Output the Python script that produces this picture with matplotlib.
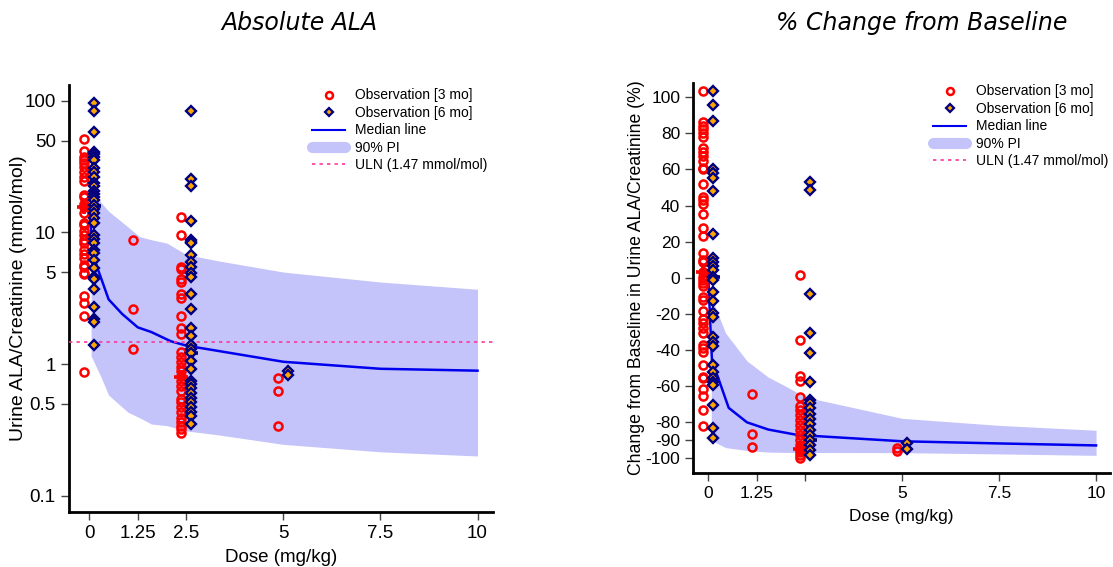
import matplotlib
matplotlib.use("Agg")
import matplotlib.pyplot as plt
from matplotlib.lines import Line2D
import numpy as np

# ---------------- data ----------------
dose_ticks = [0, 1.25, 2.5, 5, 7.5, 10]

# Absolute ALA panel: observations by dose group
abs_d0_3mo = [51.5, 41.7, 37.4, 35.7, 33.7, 31.4, 29.0, 26.6, 24.8, 19.3, 18.6, 16.5, 15.5, 14.0, 11.9, 11.3,
              10.3, 9.6, 8.8, 8.3, 7.4, 6.9, 6.4, 5.7, 5.5, 4.9, 4.8, 3.3, 2.9, 2.3, 0.87]
abs_d0_6mo = [97, 84, 57.8, 41.2, 39.6, 37.4, 35.7, 30.8, 28.6, 26.3, 23.7, 22.4, 20.8, 19.7, 18.6, 17.5, 16.2,
              15.0, 14.0, 12.8, 11.9, 9.6, 8.9, 8.3, 7.4, 7.0, 6.2, 5.4, 4.6, 4.4, 3.7, 2.7, 2.2, 2.1, 1.4]
abs_d125_3mo = [8.7, 2.6, 1.31]
abs_d25_3mo = [13.2, 9.5, 5.5, 5.3, 4.4, 4.2, 3.4, 3.2, 2.3, 1.87, 1.7, 1.24, 1.14, 1.04, 0.95, 0.88, 0.81,
               0.74, 0.68, 0.62, 0.54, 0.51, 0.47, 0.43, 0.39, 0.36, 0.34, 0.32, 0.30]
abs_d25_6mo = [84, 25.6, 22.6, 12.3, 8.8, 8.5, 8.3, 6.7, 6.0, 5.5, 4.9, 4.6, 3.4, 2.6, 1.87, 1.64, 1.40, 1.30,
               1.21, 1.05, 0.91, 0.74, 0.70, 0.66, 0.60, 0.55, 0.51, 0.47, 0.43, 0.40, 0.35]
abs_d5_3mo = [0.78, 0.62, 0.34]
abs_d5_6mo = [0.89, 0.82]
abs_obs_3mo = {0: abs_d0_3mo, 1.25: abs_d125_3mo, 2.5: abs_d25_3mo, 5: abs_d5_3mo}
abs_obs_6mo = {0: abs_d0_6mo, 2.5: abs_d25_6mo, 5: abs_d5_6mo}
abs_grp_med_dose = [0, 2.5]
abs_grp_med_3mo = [15.5, 0.79]
abs_grp_med_6mo = [15.8, 1.21]

abs_med_dose = [0, 0.08, 0.2, 0.5, 0.85, 1.25, 1.6, 2.1, 2.5, 5, 7.5, 10]
abs_median = [15.5, 7.5, 5.5, 3.1, 2.4, 1.9, 1.75, 1.49, 1.38, 1.04, 0.92, 0.89]
abs_pi_dose = [0.05, 0.3, 0.5, 1.0, 1.3, 1.6, 2.0, 2.5, 3.3, 5, 7.5, 10]
abs_pi_upper = [23, 17, 14.5, 11, 9.3, 8.8, 8.3, 6.8, 6.1, 5.0, 4.2, 3.7]
abs_pi_lower = [1.15, 0.8, 0.58, 0.43, 0.39, 0.35, 0.34, 0.31, 0.29, 0.245, 0.215, 0.2]
uln = 1.47

# % change panel
pct_d0_3mo = [103.5, 86.3, 84.1, 82.2, 80, 78.1, 72, 69.6, 67.4, 64.6, 60.9, 60.4, 52, 44.8, 43.3, 41.1, 35.6,
              27.6, 23, 13.7, 10, 8.5, 3, 0.7, -1.1, -3, -4.8, -10.4, -12.2, -18.1, -23, -25.2, -28, -30.7,
              -37.2, -39.1, -40.9, -48, -54.8, -55.7, -61.3, -65.6, -73, -82]
pct_d0_6mo = [103.5, 95.6, 86.9, 60.4, 57.8, 55.4, 48.3, 24.4, 10.9, 8.5, 6.3, 4.1, 0.7, -1.1, -8, -12.6, -19.6,
              -21.9, -33, -35.4, -37.6, -48.3, -52, -55.2, -57.6, -59.4, -70.6, -83, -88.5]
pct_d125_3mo = [-64.6, -86.7, -93.7]
pct_d25_3mo = [1.3, -34.4, -54.3, -57, -65.9, -71, -73.3, -76.1, -78.9, -81.7, -84.4, -87.2, -90, -92.8, -94.6,
               -96.5, -98.3, -99.6]
pct_d25_6mo = [53.2, 48.5, -9.1, -30.7, -41.5, -57.6, -67.8, -69.5, -71.8, -75.2, -78, -81.1, -84.4, -87.2, -90,
               -92.8, -95.6, -98.3]
pct_d5_3mo = [-94, -95.9]
pct_d5_6mo = [-91.5, -94.6]
pct_obs_3mo = {0: pct_d0_3mo, 1.25: pct_d125_3mo, 2.5: pct_d25_3mo, 5: pct_d5_3mo}
pct_obs_6mo = {0: pct_d0_6mo, 2.5: pct_d25_6mo, 5: pct_d5_6mo}
pct_grp_med_dose = [0, 2.5]
pct_grp_med_3mo = [3, -94.6]
pct_grp_med_6mo = [0.7, -90]

pct_med_dose = [0, 0.1, 0.22, 0.53, 1.0, 1.55, 2.3, 5, 7.5, 10]
pct_median = [2, -47, -53, -72, -80, -84, -87, -90.5, -91.7, -92.8]
pct_pi_dose = [0.08, 0.45, 1.0, 1.55, 2.05, 2.5, 5, 7.5, 10]
pct_pi_upper = [-10.6, -30.6, -46, -55, -60.6, -66, -77.8, -81.7, -84.4]
pct_pi_lower = [-90, -94, -95.6, -96.5, -96.7, -96.7, -96.8, -97.5, -98.3]

pct_yticks = [100, 80, 60, 40, 20, 0, -20, -40, -60, -80, -90, -100]
abs_yticks = [0.1, 0.5, 1, 5, 10, 50, 100]
abs_yticklabels = ["0.1", "0.5", "1", "5", "10", "50", "100"]

# ---------------- style ----------------
RED = "#FF0000"
NAVY = "#000080"
ORANGE = "#FFA500"
BAND = "#C4C4FA"
LINE = "#0000EE"
ULN_C = "#FF3399"
SANS = ["Liberation Sans", "DejaVu Sans"]
plt.rcParams["font.family"] = SANS

fig = plt.figure(figsize=(11.13, 5.67), dpi=100)
axL = fig.add_axes([0.062, 0.097, 0.381, 0.753])
axR = fig.add_axes([0.623, 0.166, 0.374, 0.688])

OFF = 0.13


def draw(ax, obs3, obs6, gmd, gm3, gm6, mdose, med, pdose, pup, plo, off):
    ax.fill_between(pdose, plo, pup, color=BAND, lw=0, zorder=1)
    ax.plot(mdose, med, color=LINE, lw=1.8, zorder=2)
    for d, vals in obs3.items():
        ax.plot([d - off] * len(vals), vals, ls="none", marker="o", ms=5.8, mfc="none",
                mec=RED, mew=1.8, zorder=4)
    for d, vals in obs6.items():
        ax.plot([d + off] * len(vals), vals, ls="none", marker="D", ms=4.7, mfc=ORANGE,
                mec=NAVY, mew=1.7, zorder=4)
    ax.plot([g - off for g in gmd], gm3, ls="none", marker="+", ms=10, mew=2.6, color=RED, zorder=3)
    ax.plot([g + off for g in gmd], gm6, ls="none", marker="+", ms=10, mew=2.6, color=NAVY, zorder=3)
    for s in ["top", "right"]:
        ax.spines[s].set_visible(False)
    for s in ["left", "bottom"]:
        ax.spines[s].set_linewidth(2)
    ax.tick_params(direction="out", length=6, width=1.0, color="#444444")


def legend(ax, fs, anchor):
    handles = [
        Line2D([], [], ls="none", marker="o", ms=5, mfc="none", mec=RED, mew=1.8),
        Line2D([], [], ls="none", marker="D", ms=4.2, mfc=ORANGE, mec=NAVY, mew=1.6),
        Line2D([], [], color=LINE, lw=1.5),
        Line2D([], [], color=BAND, lw=8, solid_capstyle="round"),
        Line2D([], [], color=ULN_C, lw=1.2, ls=(0, (2, 2.5))),
    ]
    labels = ["Observation [3 mo]", "Observation [6 mo]", "Median line", "90% PI",
              "ULN (1.47 mmol/mol)"]
    ax.legend(handles, labels, loc="upper right", bbox_to_anchor=anchor, frameon=False,
              fontsize=fs, handlelength=2.4, handletextpad=0.7, labelspacing=0.25,
              borderaxespad=0.0)


# Left panel
draw(axL, abs_obs_3mo, abs_obs_6mo, abs_grp_med_dose, abs_grp_med_3mo, abs_grp_med_6mo,
     abs_med_dose, abs_median, abs_pi_dose, abs_pi_upper, abs_pi_lower, OFF)
axL.axhline(uln, color=ULN_C, lw=1.2, ls=(0, (2, 2.5)), zorder=3)
axL.set_yscale("log")
axL.set_ylim(0.075, 132)
axL.set_xlim(-0.52, 10.4)
axL.set_yticks(abs_yticks)
axL.set_yticklabels(abs_yticklabels)
axL.yaxis.set_minor_locator(matplotlib.ticker.NullLocator())
axL.set_xticks(dose_ticks)
axL.set_xticklabels(["0", "1.25", "2.5", "5", "7.5", "10"])
axL.tick_params(labelsize=13.5)
axL.set_xlabel("Dose (mg/kg)", fontsize=13.5, labelpad=5)
axL.set_ylabel("Urine ALA/Creatinine (mmol/mol)", fontsize=14, labelpad=-2)
legend(axL, 10, (1.0, 1.005))

# Right panel
draw(axR, pct_obs_3mo, pct_obs_6mo, pct_grp_med_dose, pct_grp_med_3mo, pct_grp_med_6mo,
     pct_med_dose, pct_median, pct_pi_dose, pct_pi_upper, pct_pi_lower, 0.12)
axR.set_ylim(-108, 108)
axR.set_xlim(-0.38, 10.35)
axR.set_yticks(pct_yticks)
axR.set_yticklabels([str(v) for v in pct_yticks])
axR.set_xticks(dose_ticks)
axR.set_xticklabels(["0", "1.25", "", "5", "7.5", "10"])
axR.tick_params(labelsize=12.5)
axR.set_xlabel("Dose (mg/kg)", fontsize=12.5, labelpad=6)
axR.set_ylabel("Change from Baseline in Urine ALA/Creatinine (%)", fontsize=12.7, labelpad=0)
legend(axR, 10, (1.01, 1.01))

fig.text(0.269, 0.96, "Absolute ALA", fontsize=17, style="italic", ha="center", va="center",
         family="DejaVu Sans")
fig.text(0.828, 0.96, "% Change from Baseline", fontsize=17, style="italic", ha="center",
         va="center", family="DejaVu Sans")

fig.savefig("out.png", dpi=100)
